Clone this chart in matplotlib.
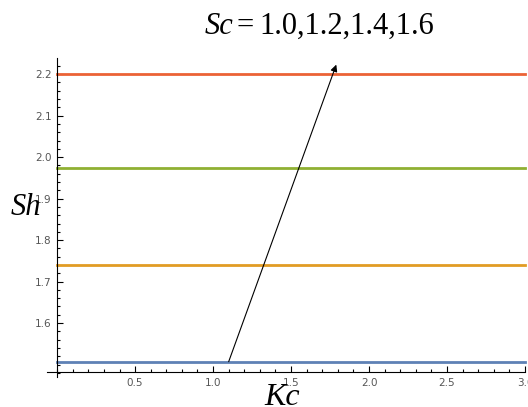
import numpy as np
import matplotlib
matplotlib.use("Agg")
import matplotlib.pyplot as plt
from matplotlib.ticker import MultipleLocator

# data
kc = [0.0, 3.0]
sc_values = [1.0, 1.2, 1.4, 1.6]
sh_values = [1.507, 1.741, 1.973, 2.201]
colors = ["#5E81B5", "#E19C24", "#8FB032", "#EB6235"]
arrow_start = (1.10, 1.507)
arrow_end = (1.79, 2.223)

fig = plt.figure(figsize=(5.28, 4.07), dpi=100)
ax = fig.add_axes([47 / 528, 30 / 407, 478 / 528, 319 / 407])

for sh, c in zip(sh_values, colors):
    ax.plot(kc, [sh, sh], color=c, lw=2.0, clip_on=False)

ax.set_xlim(-0.065, 3.0)
ax.set_ylim(1.47, 2.239)

ax.spines["top"].set_visible(False)
ax.spines["right"].set_visible(False)
ax.spines["left"].set_position(("data", 0))
ax.spines["bottom"].set_position(("data", 1.482))
ax.spines["left"].set_bounds(1.47, 2.239)

ax.xaxis.set_major_locator(MultipleLocator(0.5))
ax.xaxis.set_minor_locator(MultipleLocator(0.1))
ax.yaxis.set_major_locator(MultipleLocator(0.1))
ax.yaxis.set_minor_locator(MultipleLocator(0.02))
ax.set_xticks([0.5, 1.0, 1.5, 2.0, 2.5, 3.0])
ax.set_yticks([1.6, 1.7, 1.8, 1.9, 2.0, 2.1, 2.2])
ax.set_xticklabels(["0.5", "1.0", "1.5", "2.0", "2.5", "3.0"])
ax.set_yticklabels(["1.6", "1.7", "1.8", "1.9", "2.0", "2.1", "2.2"])

ax.tick_params(which="both", direction="in", colors="black", labelcolor="#555555",
               labelsize=7.5, width=0.8)
ax.tick_params(which="major", length=4, pad=4)
ax.tick_params(which="minor", length=2)

ax.annotate("", xy=arrow_end, xytext=arrow_start,
            arrowprops=dict(arrowstyle="-|>", color="black", lw=0.8,
                            mutation_scale=10, shrinkA=0, shrinkB=0))

serif = "Liberation Serif"
fig.text(205 / 528, 1 - 34 / 407, "Sc", family=serif, style="italic",
         fontsize=22, va="baseline", ha="left")
fig.text(236 / 528, 1 - 34 / 407, "=", family=serif, fontsize=22,
         va="baseline", ha="left")
fig.text(259 / 528, 1 - 34 / 407, "1.0,1.2,1.4,1.6", family=serif,
         fontsize=22, va="baseline", ha="left")

fig.text(11 / 528, 1 - 215 / 407, "Sh", family=serif, style="italic",
         fontsize=22, va="baseline", ha="left")
fig.text(264 / 528, 1 - 405 / 407, "Kc", family=serif, style="italic",
         fontsize=23, va="baseline", ha="left")

fig.savefig("out.png", dpi=100)
